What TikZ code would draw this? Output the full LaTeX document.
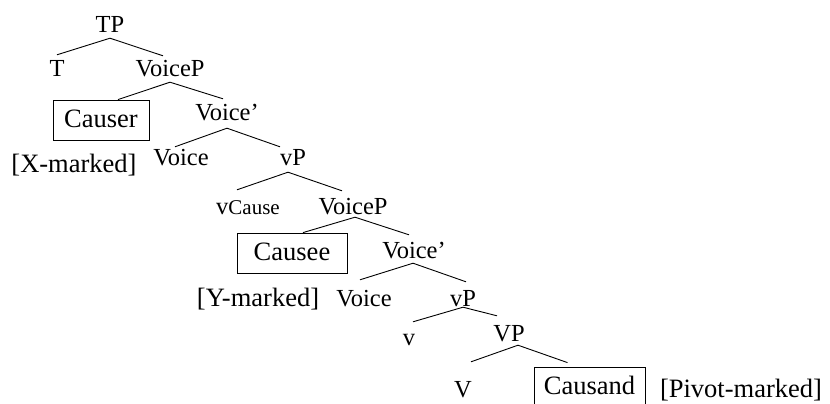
\documentclass[tikz,border=0pt]{standalone}
\usepackage{fontspec}
\setmainfont{Liberation Serif}
\begin{document}
\begin{tikzpicture}[x=1pt,y=-1pt,
  lab/.style={font=\fontsize{24.5}{28}\selectfont, text height=17pt, text depth=2pt, inner xsep=0pt, inner ysep=3pt, anchor=base},
  side/.style={font=\fontsize{26.5}{30}\selectfont, inner sep=0pt, anchor=base},
  boxed/.style={draw, line width=0.8pt, font=\fontsize{26.5}{30}\selectfont, text height=16pt, text depth=2pt, inner sep=0pt, minimum height=40pt},
  br/.style={line width=0.9pt}]
\useasboundingbox (0,0) rectangle (830,404);
\clip (0,0) rectangle (830,404);
\node[lab] (tp) at (110,33) {TP};
\node[lab] (t) at (57,77) {T};
\node[lab] (vcp1) at (170,77) {VoiceP};
\node[boxed, minimum width=96pt] (causer) at (101,120) {Causer};
\node[lab] (vbar1) at (227,120) {Voice’};
\node[side] (xm) at (74,172) {[X-marked]};
\node[lab] (voice1) at (181,165) {Voice};
\node[lab] (vp1) at (293,165) {vP};
\node[lab] (vcause) at (248,214) {v{\fontsize{21}{24}\selectfont Cause}};
\node[lab] (vcp2) at (353,214) {VoiceP};
\node[boxed, minimum width=110pt] (causee) at (292,253) {Causee};
\node[lab] (vbar2) at (414,258) {Voice’};
\node[side] (ym) at (258,306) {[Y-marked]};
\node[lab] (voice2) at (364,306) {Voice};
\node[lab] (vp2) at (463,306) {vP};
\node[lab] (v) at (409,345) {v};
\node[lab] (VP) at (509,341) {VP};
\node[lab] (V) at (463,397) {V};
\node[boxed, minimum width=111pt] (causand) at (589.5,387) {Causand};
\node[side] (pm) at (741,397) {[Pivot-marked]};
% branches
\draw[br] (tp.south) -- ([yshift=2pt]t.north);
\draw[br] (tp.south) -- ([xshift=-7pt,yshift=1pt]vcp1.north);
\draw[br] (vcp1.south) -- ([xshift=17pt]causer.north);
\draw[br] (vcp1.south) -- ([xshift=-4pt,yshift=1pt]vbar1.north);
\draw[br] ([yshift=-3pt]vbar1.south) -- ([xshift=-6pt,yshift=-2pt]voice1.north);
\draw[br] ([yshift=-3pt]vbar1.south) -- ([xshift=-13pt,yshift=-2pt]vp1.north);
\draw[br] ([xshift=-5pt,yshift=-2pt]vp1.south) -- ([xshift=-11pt,yshift=4pt]vcause.north);
\draw[br] ([xshift=-5pt,yshift=-2pt]vp1.south) -- ([xshift=-11pt,yshift=3pt]vcp2.north);
\draw[br] ([xshift=2pt,yshift=2pt]vcp2.south) -- ([xshift=11pt]causee.north);
\draw[br] ([xshift=2pt,yshift=2pt]vcp2.south) -- ([xshift=-5pt,yshift=3pt]vbar2.north);
\draw[br] ([xshift=-1pt]vbar2.south) -- ([xshift=-4pt,yshift=6pt]voice2.north);
\draw[br] ([xshift=-1pt]vbar2.south) -- ([xshift=3pt,yshift=4pt]vp2.north);
\draw[br] ([yshift=4pt]vp2.south) -- ([xshift=4pt,yshift=3pt]v.north);
\draw[br] ([yshift=4pt]vp2.south) -- ([xshift=-12pt,yshift=5pt]VP.north);
\draw[br] ([xshift=9pt,yshift=1pt]VP.south) -- ([xshift=8pt,yshift=15pt]V.north);
\draw[br] ([xshift=9pt,yshift=1pt]VP.south) -- ([xshift=-22pt,yshift=4pt]causand.north);
\end{tikzpicture}
\end{document}
